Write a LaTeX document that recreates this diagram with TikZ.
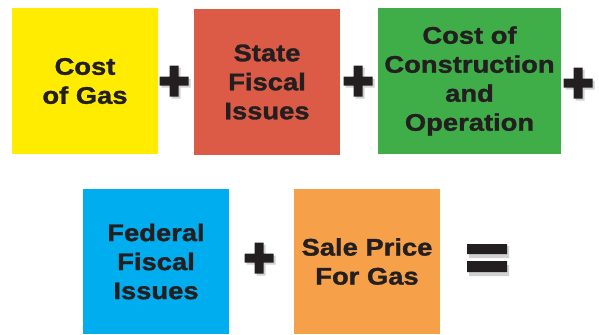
\documentclass[tikz,border=0pt]{standalone}
\usepackage{fontspec}
\newfontfamily\boxfont{Liberation Sans}[FakeStretch=1.14,BoldFeatures={FakeBold=1.3}]
\definecolor{gasyellow}{HTML}{FFEC00}
\definecolor{gasred}{HTML}{DB5B46}
\definecolor{gasgreen}{HTML}{3FAE49}
\definecolor{gasblue}{HTML}{00ADEE}
\definecolor{gasorange}{HTML}{F7A04A}
\definecolor{ink}{HTML}{231F20}
\begin{document}
\begin{tikzpicture}
    [x=1bp,y=-1bp,
    term/.style={minimum width=146bp,minimum height=146bp,inner sep=0pt,align=center,
      text=ink,font=\boxfont\bfseries\fontsize{24bp}{29bp}\selectfont},
    shade/.style={fill=black!18},
    sign/.style={fill=ink},
    pics/plussign/.style={code={
        \fill[shade] (-12.5,-2.5) rectangle (16.5,6.5) (-2.5,-13.5) rectangle (6.5,17.5);
        \fill[sign] (-14.5,-4.5) rectangle (14.5,4.5) (-4.5,-15.5) rectangle (4.5,15.5);
      }},
    pics/equalsign/.style={code={
        \fill[shade] (-18,-12) rectangle (22,-0) (-18,7) rectangle (22,18);
        \fill[sign] (-20,-14) rectangle (20,-4) (-20,3) rectangle (20,14);
      }}]
    \useasboundingbox (0,0) rectangle (599,334);
    % top row
    \node[term,fill=gasyellow] (gas) at (85,81) {Cost\\of Gas};
    \node[term,fill=gasred] (state) at (267,82) {State\\Fiscal\\Issues};
    \node[term,fill=gasgreen,minimum width=183bp] (build) at (469.5,81) {Cost of\\Construction\\and\\Operation};
    % bottom row
    \node[term,fill=gasblue,minimum height=145bp] (federal) at (156,261.5) {Federal\\Fiscal\\Issues};
    \node[term,fill=gasorange,minimum height=145bp] (sale) at (367,261.5) {Sale Price\\For Gas};
    % operators
    \foreach \x/\y in {174/81,358/81,578/83,259/258}
      \pic at (\x,\y) {plussign};
    \pic at (487,258) {equalsign};
\end{tikzpicture}
\end{document}
